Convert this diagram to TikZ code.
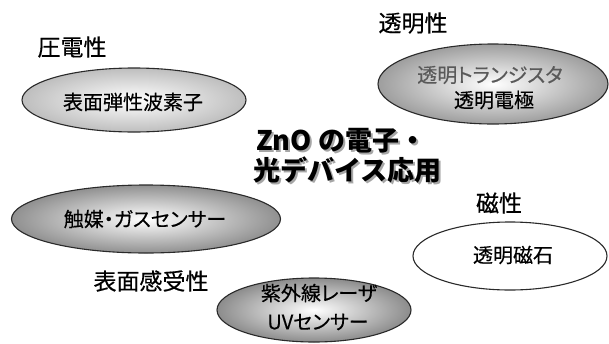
\documentclass[tikz,border=0pt]{standalone}
\usepackage{fontspec}
\setmainfont{Noto Sans CJK JP}
\newfontfamily\jpfont[RawFeature=+palt, FakeBold=0.4]{Noto Sans CJK JP}
\newfontfamily\lblfont[FakeBold=0.5]{Noto Sans CJK JP}
\usetikzlibrary{shapes.geometric}
\definecolor{edgeA}{HTML}{BEBEBE}
\definecolor{edgeB}{HTML}{9E9E9E}
\definecolor{edgeC}{HTML}{909090}
\definecolor{edgeD}{HTML}{8C8C8C}
\definecolor{lineC}{HTML}{2A2A2A}
\tikzset{
  ell/.style={ellipse, draw=lineC, line width=1.1pt, inner sep=0pt},
  lbl/.style={font=\lblfont\fontsize{23}{26}\selectfont, inner sep=0pt},
  itxt/.style={font=\jpfont\fontsize{20}{26}\selectfont, inner sep=0pt, align=center},
  ttl/.style={font=\bfseries\fontsize{27}{30}\selectfont, inner sep=0pt, anchor=west},
  ttlshadow/.style={ttl, text=black!35},
}
\begin{document}
\begin{tikzpicture}[x=1pt,y=-1pt]
\useasboundingbox[fill=white] (0,0) rectangle (609,343);
% ellipses
\node[ell, minimum width=224pt, minimum height=64pt, inner color=white, outer color=edgeA] (e1) at (134,100) {};
\node[ell, minimum width=230pt, minimum height=80pt, inner color=white, outer color=edgeB] (e2) at (493,84) {};
\node[ell, minimum width=269pt, minimum height=68pt, inner color=white, outer color=edgeC] (e3) at (146,219) {};
\node[ell, minimum width=194pt, minimum height=64pt, inner color=white, outer color=edgeD] (e4) at (314,310) {};
\node[ell, minimum width=194pt, minimum height=68pt, fill=white] (e5) at (510,256) {};
% ellipse texts
\node[itxt] (t1) at (133,102) {表面弾性波素子};
\node[itxt, text=black!65] (t2a) at (490,75) {透明トランジスタ};
\node[itxt] (t2b) at (494,100) {透明電極};
\node[itxt] (t3) at (145,219) {触媒・ガスセンサー};
\node[itxt] (t4a) at (319,293) {紫外線レーザ};
\node[itxt] (t4b) at (318,322) {UVセンサー};
\node[itxt] (t5) at (513,255) {透明磁石};
% labels
\node[lbl] (l1) at (72,47) {圧電性};
\node[lbl] (l2) at (413,23) {透明性};
\node[lbl] (l3) at (499,203) {磁性};
\node[lbl] (l4) at (151,281) {表面感受性};
% title
\node[ttlshadow] (s1) at (258,143) {ZnO の電子・};
\node[ttlshadow] (s2) at (255,172) {光デバイス応用};
\node[ttl] (h1) at (256,141) {ZnO の電子・};
\node[ttl] (h2) at (253,170) {光デバイス応用};
\end{tikzpicture}
\end{document}
